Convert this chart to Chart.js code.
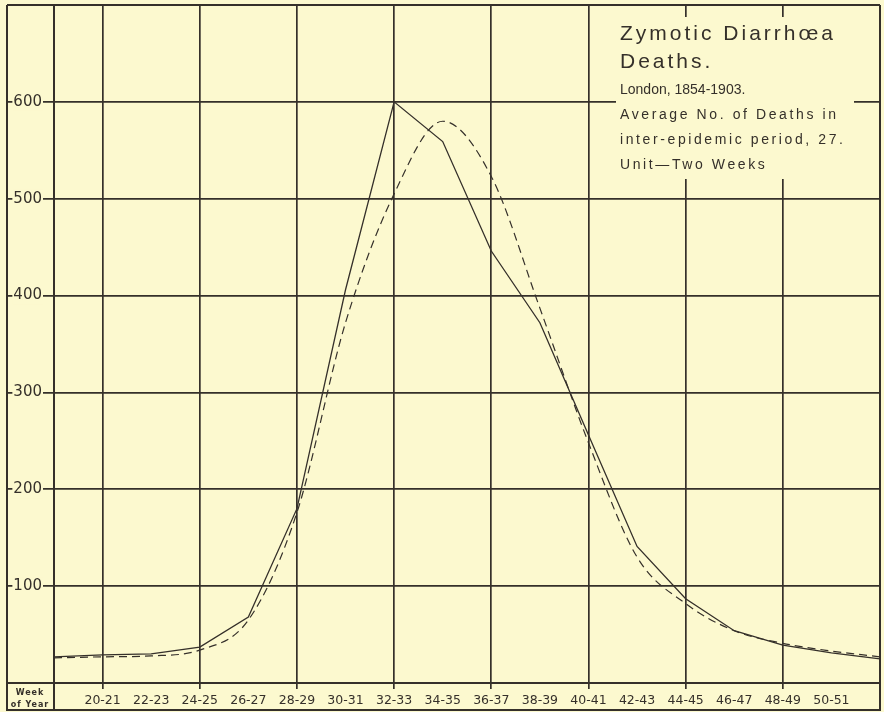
<!DOCTYPE html>
<html>
<head>
<meta charset="utf-8">
<script src="https://cdn.jsdelivr.net/npm/chart.js@4/dist/chart.umd.min.js"></script>
<style>
  html, body { margin: 0; padding: 0; background: #fcf9cf; }
  #wrap { width: 884px; height: 712px; }
</style>
</head>
<body>
<div id="wrap"><canvas id="Chart-diarrhoea" width="884" height="712"></canvas></div>
<script>
// two-week periods, 18-19 and 52-53 sit on the frame edges and carry no label
var weeks = ['18-19', '20-21', '22-23', '24-25', '26-27', '28-29', '30-31', '32-33', '34-35',
  '36-37', '38-39', '40-41', '42-43', '44-45', '46-47', '48-49', '50-51', '52-53'];
// observed deaths (solid line)
var deaths = [27, 29, 30, 37, 68, 180, 406, 600, 559, 446, 372, 256, 141, 87, 54, 39, 31, 25];
// fitted curve (dashed line)
var curve = [26, 27, 28, 34, 65, 176, 372, 505, 580, 523, 387, 248, 130, 82, 54, 41, 33, 27];
var yTicks = [100, 200, 300, 400, 500, 600];
var titleLines = ['Zymotic Diarrhœa', 'Deaths.'];
var noteLines = ['London, 1854-1903.', 'Average No. of Deaths in', 'inter-epidemic period, 27.', 'Unit—Two Weeks'];

const ink = '#35302a';
const paper = '#fcf9cf';

// outer frame, label row and the note box in the corner
const framePlugin = {
  id: 'frame',
  beforeDatasetsDraw(chart) {
    const ctx = chart.ctx;
    ctx.save();
    ctx.fillStyle = paper;
    ctx.fillRect(616, 17, 238, 162);
    ctx.fillStyle = ink;
    ctx.textAlign = 'left';
    ctx.textBaseline = 'alphabetic';
    ctx.font = '21px "Liberation Sans"';
    ctx.letterSpacing = '3px';
    ctx.fillText(titleLines[0], 620, 40);
    ctx.fillText(titleLines[1], 620, 68);
    ctx.font = '14px "Liberation Sans"';
    ctx.letterSpacing = '0px';
    ctx.fillText(noteLines[0], 620, 94);
    ctx.letterSpacing = '2.6px';
    ctx.fillText(noteLines[1], 620, 119);
    ctx.fillText(noteLines[2], 620, 144);
    ctx.fillText(noteLines[3], 620, 169);
    ctx.restore();
  },
  afterDraw(chart) {
    const ctx = chart.ctx;
    const a = chart.chartArea;
    ctx.save();
    ctx.strokeStyle = ink;
    ctx.lineWidth = 2;
    ctx.beginPath();
    ctx.moveTo(7, a.top); ctx.lineTo(a.right, a.top);
    ctx.moveTo(7, a.top); ctx.lineTo(7, 710); ctx.lineTo(a.right, 710); ctx.lineTo(a.right, a.top);
    ctx.moveTo(a.left, a.bottom); ctx.lineTo(a.left, 710);
    ctx.moveTo(7, a.bottom); ctx.lineTo(a.left, a.bottom);
    ctx.stroke();
    ctx.fillStyle = ink;
    ctx.textAlign = 'center';
    ctx.font = 'bold 8px "DejaVu Sans"';
    ctx.letterSpacing = '1px';
    ctx.fillText('Week', 30, 695);
    ctx.fillText('of Year', 30, 707);
    ctx.restore();
  }
};

var chart = new Chart(document.getElementById('Chart-diarrhoea').getContext('2d'), {
  type: 'line',
  data: {
    labels: weeks,
    datasets: [{
        label: 'Deaths',
        data: deaths,
        borderColor: ink,
        borderWidth: 1.3,
        pointRadius: 0,
        tension: 0,
        fill: false
      },
      {
        label: 'Curve',
        data: curve,
        borderColor: ink,
        borderWidth: 1.2,
        borderDash: [8, 5],
        pointRadius: 0,
        cubicInterpolationMode: 'monotone',
        fill: false
      }
    ]
  },
  options: {
    responsive: false,
    animation: false,
    devicePixelRatio: 1,
    layout: { padding: { left: 7, right: 4, top: 5, bottom: 2 } },
    plugins: {
      legend: { display: false },
      tooltip: { enabled: false }
    },
    scales: {
      x: {
        offset: false,
        afterFit: function(axis) { axis.height = 27; },
        border: { display: true, color: ink, width: 2 },
        grid: {
          offset: false,
          color: function(c) { return c.index % 2 === 1 ? ink : 'rgba(0,0,0,0)'; },
          lineWidth: 1.7,
          tickLength: 6
        },
        ticks: {
          color: ink,
          font: { family: 'DejaVu Sans', size: 12.5 },
          padding: 4,
          maxRotation: 0,
          autoSkip: false,
          callback: function(v, i) { return (i === 0 || i === weeks.length - 1) ? '' : weeks[i]; }
        }
      },
      y: {
        min: 0,
        max: 700,
        afterBuildTicks: function(axis) { axis.ticks = yTicks.map(function(v) { return { value: v }; }); },
        afterFit: function(axis) { axis.width = 47; },
        border: { display: true, color: ink, width: 2 },
        grid: { color: ink, lineWidth: 1.7, drawTicks: true, tickLength: 47 },
        ticks: {
          color: ink,
          font: { family: 'DejaVu Sans', size: 15 },
          padding: -35,
          crossAlign: 'center',
          showLabelBackdrop: true,
          backdropColor: paper,
          backdropPadding: { left: 1, right: 1, top: 0, bottom: 0 }
        }
      }
    }
  },
  plugins: [framePlugin]
});
</script>
</body>
</html>
